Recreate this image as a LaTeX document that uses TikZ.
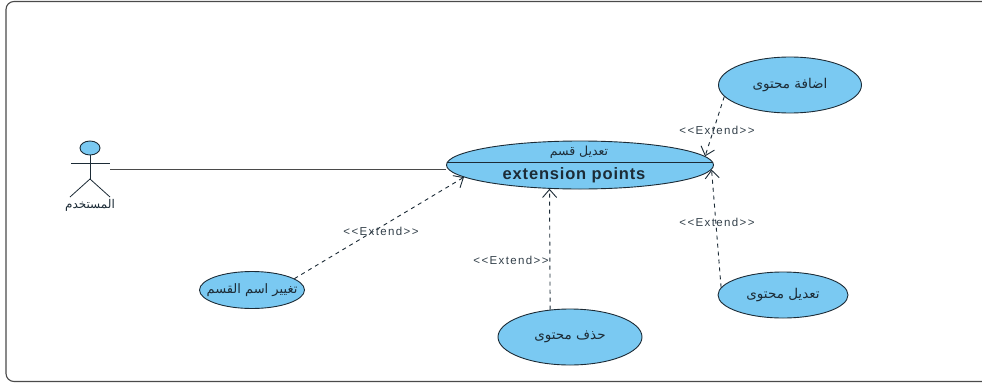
\documentclass[tikz,border=0pt]{standalone}
\usepackage{fontspec}
\usepackage{xcolor}
\usepackage{tikz}
\usetikzlibrary{shapes.geometric, arrows.meta, positioning}
\setmainfont{Liberation Sans}
\newfontfamily\arabicfont[Script=Arabic]{DejaVu Sans}
\TeXXeTstate=1
\newcommand{\artext}[1]{{\arabicfont\beginR #1\endR}}
\newcommand{\extendtext}{{<}{<}Extend{>}{>}}
\definecolor{usecaseblue}{HTML}{7AC9F2}
\definecolor{framegray}{HTML}{4A4A4A}
\definecolor{inkdark}{HTML}{1C2B36}

\begin{document}
\begin{tikzpicture}[
    x=1pt, y=-1pt,
    usecase/.style={ellipse, draw=inkdark, fill=usecaseblue, line width=0.9pt, inner sep=0pt, align=center, font=\fontsize{13.5}{15}\selectfont, text=inkdark},
    extend/.style={-{Straight Barb[length=8pt, width=14pt]}, dashed, dash pattern=on 4pt off 4pt, line width=0.9pt, inkdark},
    stereo/.style={font=\addfontfeature{LetterSpace=12}\fontsize{11.5}{13}\selectfont, text=inkdark!90, inner sep=0pt},
    stick/.style={line width=0.8pt, inkdark}
]
\useasboundingbox (0,0) rectangle (982,383);

% Frame
\draw[framegray, line width=1.1pt, rounded corners=8pt, fill=white] (6,1.5) rectangle (990,381.5);

% Actor
\node[ellipse, draw=inkdark, fill=usecaseblue, line width=0.9pt, minimum width=20pt, minimum height=14pt, inner sep=0pt] (head) at (90,148) {};
\coordinate (neck) at (90,163);
\coordinate (armleft) at (71,163);
\coordinate (armright) at (110,163);
\coordinate (hip) at (90,179);
\coordinate (footleft) at (70,197);
\coordinate (footright) at (110,197);
\coordinate (hand) at (110,169);
\draw[stick] (head.south) -- (hip);
\draw[stick] (armleft) -- (armright);
\draw[stick] (footleft) -- (hip) -- (footright);
\node[font=\fontsize{12}{14}\selectfont, text=inkdark, inner sep=0pt] (actor) at (90,205) {\artext{المستخدم}};

% Main use case
\node[usecase, minimum width=267pt, minimum height=48pt] (main) at (580,165) {};
\draw[line width=0.9pt, inkdark] (main.179) -- (main.1);
\node[font=\fontsize{12.5}{14}\selectfont, text=inkdark, inner sep=0pt] (maintitle) at (579,152) {\artext{تعديل قسم}};
\node[font=\bfseries\addfontfeature{LetterSpace=5}\fontsize{16.5}{18}\selectfont, text=inkdark, inner sep=0pt] (points) at (574,175) {extension points};

% Extending use cases
\node[usecase, minimum width=143pt, minimum height=56pt] (add) at (790,85) {\artext{اضافة محتوى}};
\node[usecase, minimum width=130pt, minimum height=46pt] (edit) at (783,295) {\artext{تعديل محتوى}};
\node[usecase, minimum width=144pt, minimum height=56pt] (remove) at (570,337) {\artext{حذف محتوى}};
\node[usecase, minimum width=105pt, minimum height=37pt, font=\fontsize{13}{15}\selectfont] (rename) at (252,290) {\makebox[0pt]{\artext{تغيير اسم القسم}}};

% Actor link
\draw[line width=0.9pt, framegray] (hand) -- (hand -| main.west);

% Extend arrows
\draw[extend] (add.190) -- (main.4.6);
\draw[extend] (edit.173.7) -- (main.-2);
\draw[extend] (remove.126.6) -- (main.218.5);
\draw[extend] (rename.15.8) -- (main.186.4);

% Extend labels
\node[stereo] (addlabel) at (717,130) {\extendtext};
\node[stereo] (editlabel) at (717,222) {\extendtext};
\node[stereo] (removelabel) at (511,260) {\extendtext};
\node[stereo] (renamelabel) at (381,231) {\extendtext};

\end{tikzpicture}
\end{document}
